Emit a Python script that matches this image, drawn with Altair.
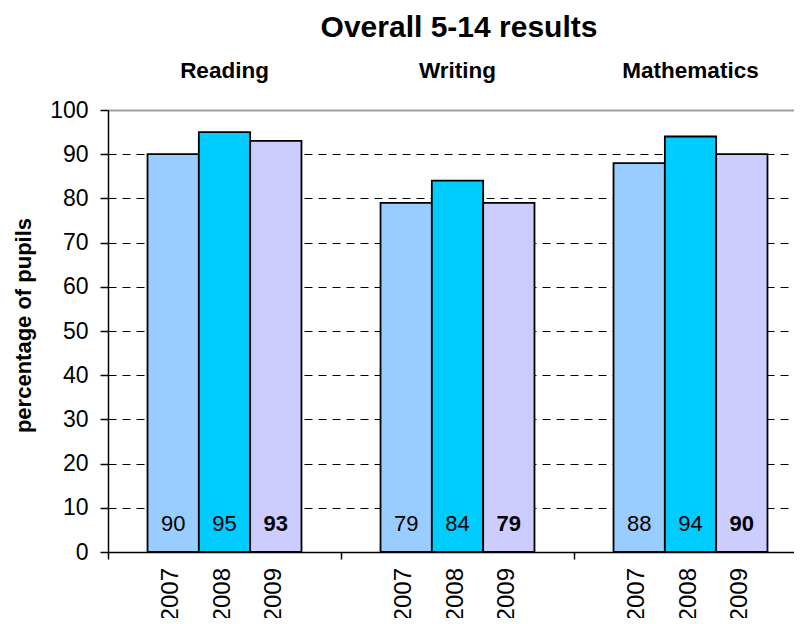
import altair as alt
import pandas as pd

subjects = ["Reading", "Writing", "Mathematics"]
years = ["2007", "2008", "2009"]
reading = [90, 95, 93]
writing = [79, 84, 79]
mathematics = [88, 94, 90]
bar_colors = ["#99CCFF", "#00CCFF", "#CCCCFF"]
y_ticks = list(range(0, 101, 10))

rows = []
for subj, vals in zip(subjects, [reading, writing, mathematics]):
    for yr, v in zip(years, vals):
        rows.append({"subject": subj, "year": yr, "value": v})
df = pd.DataFrame(rows)
subj_df = pd.DataFrame({"subject": subjects})

FONT = "Liberation Sans"

x_enc = alt.X(
    "subject:N",
    sort=subjects,
    scale=alt.Scale(domain=subjects, range=[0, 699], paddingInner=0, paddingOuter=0),
    axis=alt.Axis(
        title=None, labels=False, grid=False, tickBand="extent", tickSize=7,
        tickColor="black", tickWidth=1.5, domainColor="black", domainWidth=1.5,
    ),
)
xoff = alt.XOffset("year:N", sort=years, scale=alt.Scale(paddingInner=0, paddingOuter=0.77))

bars = alt.Chart(df).mark_bar(stroke="black", strokeWidth=1.8).encode(
    x=x_enc,
    xOffset=xoff,
    y=alt.Y(
        "value:Q",
        scale=alt.Scale(domain=[0, 100], nice=False),
        axis=alt.Axis(
            values=y_ticks, title="percentage of pupils", titleFont=FONT,
            titleFontSize=22, titleFontWeight="bold", titleColor="black",
            titleX=-85, titleY=215, titleAngle=270, titleBaseline="middle", titleAlign="center",
            labelFont=FONT, labelFontSize=23, labelColor="black", labelPadding=12,
            tickSize=8, tickColor="black", tickWidth=1.5,
            domainColor="black", domainWidth=1.5,
            grid=True,
            gridColor={"condition": {"test": "datum.value == 100", "value": "#a0a0a0"}, "value": "black"},
            gridDash={"condition": {"test": "datum.value == 100", "value": [1, 0]}, "value": [8, 6]},
            gridWidth={"condition": {"test": "datum.value == 100", "value": 2}, "value": 1},
        ),
    ),
    color=alt.Color("year:N", sort=years, scale=alt.Scale(domain=years, range=bar_colors), legend=None),
)

val_normal = alt.Chart(df).transform_filter("datum.year != '2009'").mark_text(
    font=FONT, fontSize=22, color="black", baseline="middle"
).encode(x=alt.X("subject:N", sort=subjects), xOffset=xoff, y=alt.value(414), text="value:Q")

val_bold = alt.Chart(df).transform_filter("datum.year == '2009'").mark_text(
    font=FONT, fontSize=22, fontWeight="bold", color="black", baseline="middle"
).encode(x=alt.X("subject:N", sort=subjects), xOffset=xoff, y=alt.value(414), text="value:Q")

year_lbl = alt.Chart(df).mark_text(
    font=FONT, fontSize=24, color="black", angle=270, align="right", baseline="middle", dy=-2
).encode(x=alt.X("subject:N", sort=subjects), xOffset=xoff, y=alt.value(458), text="year:N")

subj_lbl = alt.Chart(subj_df).mark_text(
    font=FONT, fontSize=22.5, fontWeight="bold", color="black", baseline="alphabetic"
).encode(x=alt.X("subject:N", sort=subjects), y=alt.value(-32), text="subject:N")

title_txt = alt.Chart(pd.DataFrame({"t": ["Overall 5-14 results"]})).mark_text(
    font=FONT, fontSize=30, fontWeight="bold", color="black", baseline="alphabetic", dx=1.5
).encode(x=alt.datum("Writing"), y=alt.value(-73), text="t:N")

chart = alt.layer(bars, val_normal, val_bold, year_lbl, subj_lbl, title_txt).properties(
    width=686, height=442,
    autosize=alt.AutoSizeParams(type="none"),
    padding={"left": 100, "top": 102, "right": 0, "bottom": 66},
    background="white",
).configure_view(stroke="transparent")

chart.save("out.html", embed_options={"renderer": "svg", "actions": False})
